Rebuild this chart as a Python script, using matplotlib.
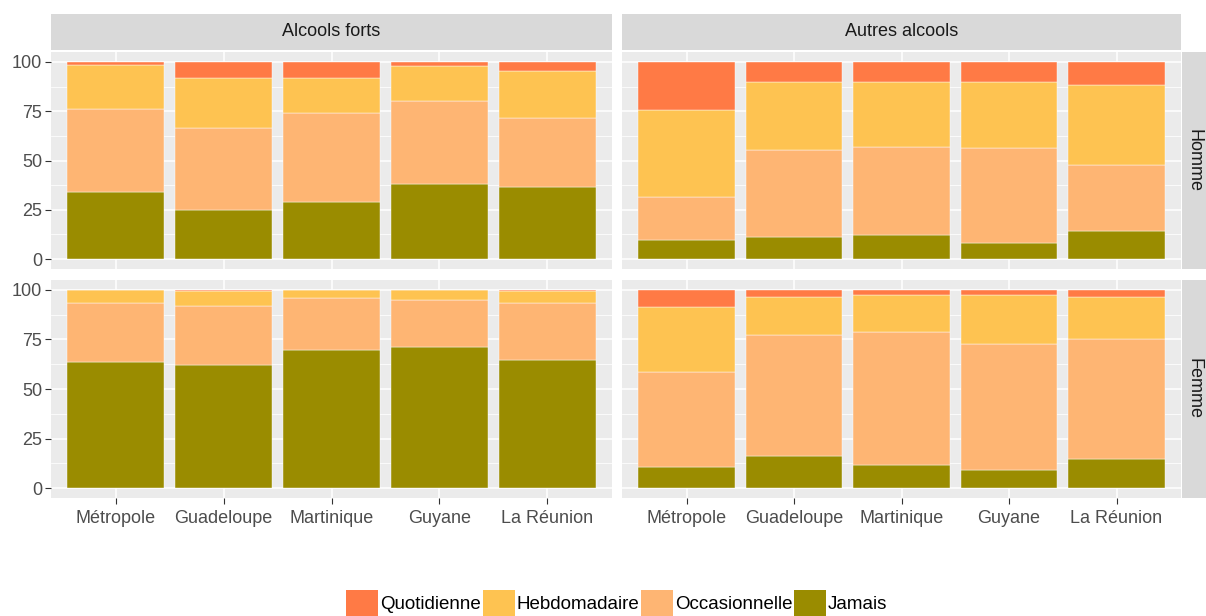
import matplotlib.pyplot as plt
from matplotlib.patches import Patch
import numpy as np

plt.rcParams['font.family'] = ['Liberation Sans', 'DejaVu Sans']

regions = ['Métropole', 'Guadeloupe', 'Martinique', 'Guyane', 'La Réunion']
alcools = ['Alcools forts', 'Autres alcools']
sexes = ['Homme', 'Femme']
levels = ['Quotidienne', 'Hebdomadaire', 'Occasionnelle', 'Jamais']
level_colors = ['#FF7A45', '#FEC351', '#FEB573', '#9A8C00']

# Homme / Alcools forts
hf_jamais = [34.0, 24.8, 29.2, 37.9, 36.8]
hf_occas = [42.2, 41.6, 45.0, 42.2, 34.9]
hf_hebdo = [22.3, 25.3, 17.5, 17.7, 23.9]
hf_quot = [1.5, 8.3, 8.3, 2.2, 4.4]

# Homme / Autres alcools
ha_jamais = [9.8, 11.3, 12.1, 8.4, 14.2]
ha_occas = [21.7, 44.0, 44.7, 47.8, 33.7]
ha_hebdo = [43.9, 34.4, 32.9, 33.5, 40.3]
ha_quot = [24.6, 10.3, 10.3, 10.3, 11.8]

# Femme / Alcools forts
ff_jamais = [63.7, 62.2, 69.8, 71.1, 64.4]
ff_occas = [29.9, 29.9, 26.0, 24.0, 29.2]
ff_hebdo = [6.4, 7.4, 4.2, 4.9, 5.9]
ff_quot = [0.0, 0.5, 0.0, 0.0, 0.5]

# Femme / Autres alcools
fa_jamais = [10.6, 16.0, 11.5, 9.1, 14.5]
fa_occas = [48.0, 61.0, 67.4, 63.7, 60.5]
fa_hebdo = [32.8, 19.6, 18.6, 24.7, 21.6]
fa_quot = [8.6, 3.4, 2.5, 2.5, 3.4]

panels = {
    ('Homme', 'Alcools forts'): [hf_jamais, hf_occas, hf_hebdo, hf_quot],
    ('Homme', 'Autres alcools'): [ha_jamais, ha_occas, ha_hebdo, ha_quot],
    ('Femme', 'Alcools forts'): [ff_jamais, ff_occas, ff_hebdo, ff_quot],
    ('Femme', 'Autres alcools'): [fa_jamais, fa_occas, fa_hebdo, fa_quot],
}

W, H = 1206, 616
fig = plt.figure(figsize=(W / 100, H / 100), dpi=100)


def px_axes(left, top, right, bottom):
    return fig.add_axes([left / W, 1 - bottom / H, (right - left) / W, (bottom - top) / H])


col_x = [(51, 612), (622, 1181)]
row_y = [(52, 269), (280, 498)]
grey_txt = '#4D4D4D'

x = np.arange(len(regions))
for r, sexe in enumerate(sexes):
    for c, alcool in enumerate(alcools):
        ax = px_axes(col_x[c][0], row_y[r][0], col_x[c][1], row_y[r][1])
        ax.set_facecolor('#EBEBEB')
        series = panels[(sexe, alcool)]
        bottom = np.zeros(len(regions))
        # Jamais at the bottom, Quotidienne on top
        for vals, col in zip(series, level_colors[::-1]):
            ax.bar(x, vals, width=0.9, bottom=bottom, color=col,
                   edgecolor='#FFFFFF', linewidth=0.3, zorder=3)
            bottom += np.array(vals)
        ax.set_xlim(-0.6, len(regions) - 0.4)
        ax.set_ylim(-5, 105)
        ax.set_yticks([0, 25, 50, 75, 100])
        ax.set_yticks([12.5, 37.5, 62.5, 87.5], minor=True)
        ax.set_xticks(x)
        ax.grid(which='major', color='white', linewidth=1.1, zorder=0)
        ax.grid(which='minor', axis='y', color='white', linewidth=0.55, zorder=0)
        ax.set_axisbelow(True)
        for s in ax.spines.values():
            s.set_visible(False)
        ax.tick_params(which='minor', length=0)
        ax.tick_params(which='major', length=4.5, color='#333333', width=0.8,
                       labelsize=13, labelcolor=grey_txt, pad=2)
        if c == 0:
            ax.set_yticklabels(['0', '25', '50', '75', '100'])
        else:
            ax.tick_params(axis='y', length=0, labelleft=False)
        if r == 1:
            ax.set_xticklabels(regions)
            ax.tick_params(axis='x', pad=4)
        else:
            ax.tick_params(axis='x', length=0, labelbottom=False)

        if r == 0:
            sax = px_axes(col_x[c][0], 14, col_x[c][1], 50)
            sax.set_facecolor('#D9D9D9')
            sax.set_xticks([])
            sax.set_yticks([])
            for s in sax.spines.values():
                s.set_visible(False)
            sax.text(0.5, 0.5, alcool, ha='center', va='center', fontsize=13,
                     color='#1A1A1A', transform=sax.transAxes)
        if c == 1:
            sax = px_axes(1182, row_y[r][0], 1206, row_y[r][1])
            sax.set_facecolor('#D9D9D9')
            sax.set_xticks([])
            sax.set_yticks([])
            for s in sax.spines.values():
                s.set_visible(False)
            sax.text(0.5, 0.5, sexe, ha='center', va='center', fontsize=13,
                     color='#1A1A1A', rotation=-90, transform=sax.transAxes)

handles = [Patch(facecolor=col, edgecolor='none', label=lab)
           for lab, col in zip(levels, level_colors)]
fig.legend(handles=handles, loc='center', bbox_to_anchor=(617 / W, 1 - 603 / H),
           ncol=4, frameon=False, fontsize=13.5, handlelength=1.7, handleheight=1.7,
           handletextpad=0.1, columnspacing=0.1, borderpad=0, borderaxespad=0)

fig.savefig('out.png', dpi=100, facecolor='white')
